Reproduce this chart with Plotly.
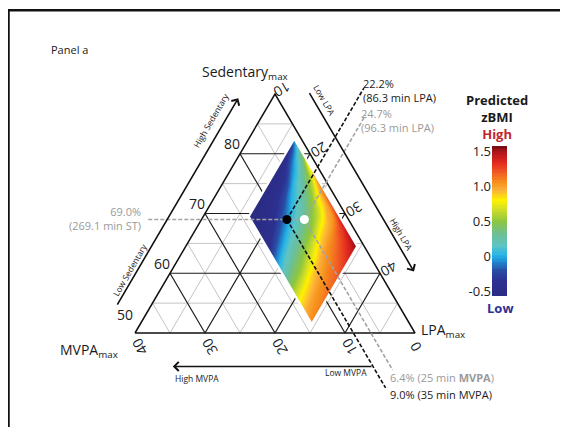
import plotly.graph_objects as go

# page body keeps an 8px margin, so the figure is sized to the visible window
OX, OY = 8, 8
W, H = 568 - OX, 427 - OY
FONT = "Open Sans"

# ---------------- chart data ----------------
sed_tick_vals = [50, 60, 70, 80]          # left side (Sedentary %)
mvpa_tick_vals = [40, 30, 20, 10, 0]      # bottom side (MVPA %)
lpa_tick_vals = [10, 20, 30, 40]          # right side (LPA %)

sed_grid = [55, 60, 65, 70, 75, 80, 85]
lpa_grid = [15, 20, 25, 30, 35, 40, 45]
mvpa_grid = [5, 10, 15, 20, 25, 30, 35]

# predicted zBMI surface: rows = MVPA %, cols = LPA %
lpa_cols = [16.5, 18.5, 20.5, 22.5, 24.5, 26.5, 28.5, 30.5, 32.5, 34.5]
mvpa_rows = [1, 2, 3.5, 5.5, 8, 11, 14]
zbmi = [
    [-0.10, 0.41, 0.83, 1.02, 1.14, 1.24, 1.32, 1.40, 1.49, 1.58],
    [-0.33, 0.13, 0.39, 0.62, 0.88, 0.96, 1.05, 1.25, 1.35, 1.45],
    [-0.45, -0.09, 0.18, 0.37, 0.54, 0.72, 0.94, 1.12, 1.25, 1.35],
    [-0.55, -0.35, 0.01, 0.18, 0.35, 0.54, 0.85, 1.05, 1.15, 1.25],
    [-0.57, -0.42, -0.23, 0.02, 0.22, 0.44, 0.69, 0.94, 1.08, 1.17],
    [-0.58, -0.52, -0.40, -0.16, 0.10, 0.33, 0.54, 0.83, 1.02, 1.12],
    [-0.60, -0.57, -0.50, -0.35, -0.06, 0.19, 0.47, 0.75, 0.95, 1.08],
]

# reference points: black = 69.0% ST / 22.2% LPA / 8.8% MVPA, white = 69.0 / 24.7 / 6.3
pt_sed = [69.0, 69.0]
pt_lpa = [22.2, 24.7]
pt_mvpa = [8.8, 6.3]
guide_sed_top = [91.0, 86.5]      # upper ends of the LPA guides
guide_sed_bottom = [40.8, 43.8]   # lower ends of the MVPA guides
guide_lpa_left = 2.4              # left end of the ST guide

cb_min, cb_max = -0.57, 1.58
cb_tickvals = [-0.5, 0, 0.5, 1.0, 1.5]
cb_ticktext = ["-0.5", "0", "0.5", "1.0", "1.5"]


def fx(xp):
    return (xp - OX) / W


def fy(yp):
    return 1 - (yp - OY) / H


# ---------------- projection (ternary -> plane) ----------------
X0, Y0 = 135 - OX, 333 - OY   # bottom-left corner in figure pixels
SX, SY = 7.0, 5.975           # pixels per percentage point
x_range = [-X0 / SX, (W - X0) / SX]
y_range = [-(H - Y0) / SY, Y0 / SY]


def tern(sed, lpa):
    return (lpa - 10) + (sed - 50) / 2.0, sed - 50


def seg_trace(segs, color, width, dash=None, axes=("x", "y")):
    xs, ys = [], []
    for seg in segs:
        for (x, y) in seg:
            xs.append(x)
            ys.append(y)
        xs.append(None)
        ys.append(None)
    return go.Scatter(x=xs, y=ys, mode="lines", xaxis=axes[0], yaxis=axes[1],
                      line=dict(color=color, width=width, dash=dash),
                      hoverinfo="skip", showlegend=False)


def sed_line(s):
    return [tern(s, 10), tern(s, 100 - s)]


def lpa_line(l):
    return [tern(50, l), tern(100 - l, l)]


def mvpa_line(m):
    return [tern(50, 50 - m), tern(90 - m, 10)]


minor = ([sed_line(v) for v in sed_grid if v % 10] +
         [lpa_line(v) for v in lpa_grid if v % 10] +
         [mvpa_line(v) for v in mvpa_grid if v % 10])
major = ([sed_line(v) for v in sed_grid if v % 10 == 0] +
         [lpa_line(v) for v in lpa_grid if v % 10 == 0] +
         [mvpa_line(v) for v in mvpa_grid if v % 10 == 0])
outline = [[tern(50, 10), tern(50, 50), tern(90, 10), tern(50, 10)]]

traces = [
    seg_trace(minor, "#c4c4c4", 1.0),
    seg_trace(major, "#1a1a1a", 1.2),
    seg_trace(outline, "#111111", 1.5),
]

# ---------------- colour surface (overlay axes) ----------------
cs_pairs = [(-0.57, "#2b2c84"), (-0.35, "#2e3192"), (-0.2, "#2a4fa6"), (-0.07, "#1e8fd4"),
            (0.02, "#29b6e6"), (0.15, "#5ec4c4"), (0.32, "#6dbf95"), (0.5, "#8dc63f"),
            (0.68, "#d4df26"), (0.8, "#fff200"), (0.95, "#fbb03b"), (1.05, "#f7941d"),
            (1.2, "#f15a24"), (1.35, "#e0261f"), (1.48, "#b3151b"), (1.58, "#7a0d12")]
colorscale = [[(v - cb_min) / (cb_max - cb_min), c] for v, c in cs_pairs]

cx = [[tern(100 - l - m, l)[0] for l in lpa_cols] for m in mvpa_rows]
cy = [[tern(100 - l - m, l)[1] for l in lpa_cols] for m in mvpa_rows]
hidden_axis = dict(showgrid=False, showline=False, showticklabels="none",
                   startline=False, endline=False, minorgridcount=0, tickmode="array",
                   tickvals=[])
traces.append(go.Carpet(carpet="zdiamond", a=lpa_cols, b=mvpa_rows, x=cx, y=cy,
                        xaxis="x2", yaxis="y2", aaxis=hidden_axis, baxis=hidden_axis))
traces.append(go.Contourcarpet(
    carpet="zdiamond", a=lpa_cols, b=mvpa_rows, z=zbmi, xaxis="x2", yaxis="y2",
    autocontour=False,
    contours=dict(start=cb_min, end=cb_max, size=0.02, coloring="fill", showlines=False),
    line=dict(width=0), colorscale=colorscale,
    colorbar=dict(x=fx(492), xanchor="left", xpad=0, ypad=0, y=fy(221), yanchor="middle",
                  len=150, lenmode="pixels", thickness=15, outlinewidth=0,
                  showticklabels=False, ticks="")))

lo_l, hi_l = lpa_cols[0], lpa_cols[-1]
lo_m, hi_m = mvpa_rows[0], mvpa_rows[-1]
corners = [(lo_l, lo_m), (hi_l, lo_m), (hi_l, hi_m), (lo_l, hi_m), (lo_l, lo_m)]
traces.append(seg_trace([[tern(100 - l - m, l) for l, m in corners]], "white", 2.2,
                        axes=("x2", "y2")))

# guides
GRAY = "#a3a3a3"
DASH = "4px,2px"
traces.append(seg_trace([[tern(pt_sed[0], guide_lpa_left), tern(pt_sed[1], pt_lpa[1])]],
                        GRAY, 1.6, DASH, ("x2", "y2")))
traces.append(seg_trace([[tern(pt_sed[1], pt_lpa[1]), tern(guide_sed_top[1], pt_lpa[1])],
                         [tern(pt_sed[1], pt_lpa[1]),
                          tern(guide_sed_bottom[1], 100 - guide_sed_bottom[1] - pt_mvpa[1])]],
                        GRAY, 1.6, DASH, ("x2", "y2")))
traces.append(seg_trace([[tern(pt_sed[0], pt_lpa[0]), tern(guide_sed_top[0], pt_lpa[0])],
                         [tern(pt_sed[0], pt_lpa[0]),
                          tern(guide_sed_bottom[0], 100 - guide_sed_bottom[0] - pt_mvpa[0])]],
                        "#111111", 1.6, DASH, ("x2", "y2")))
px_, py_ = zip(*[tern(s, l) for s, l in zip(pt_sed, pt_lpa)])
traces.append(go.Scatter(x=list(px_), y=list(py_), mode="markers", xaxis="x2", yaxis="y2",
                         marker=dict(size=9, color=["#000000", "#ffffff"], line=dict(width=0)),
                         hoverinfo="skip", showlegend=False))

# invisible trace carrying the colour-bar value axis
traces.append(go.Scatter(x=[0.5], y=[cb_min], xaxis="x3", yaxis="y3", mode="markers",
                         marker=dict(opacity=0), hoverinfo="skip", showlegend=False))

fig = go.Figure(traces)

# ---------------- annotations ----------------
ann = []


def txt(xp, yp, text, size=11, color="#1a1a1a", angle=0, xanchor="center", align="center"):
    ann.append(dict(x=fx(xp), y=fy(yp), xref="paper", yref="paper", text=text,
                    showarrow=False, textangle=angle, xanchor=xanchor, yanchor="middle",
                    align=align, font=dict(family=FONT, size=size, color=color)))


def tick(pos, text, xs, ys, angle=0):
    ann.append(dict(x=pos[0], y=pos[1], xref="x", yref="y", text=text, showarrow=False,
                    xshift=xs, yshift=ys, textangle=angle,
                    font=dict(family=FONT, size=14, color="#1a1a1a")))


for v in sed_tick_vals:
    if v == 50:
        tick(tern(v, 10), str(v), -10, 19)
    else:
        tick(tern(v, 10), str(v), -8, 10)
for v in mvpa_tick_vals:
    tick(tern(50, 50 - v), str(v), 4 if v else 0, -14, -120)
for v in lpa_tick_vals:
    tick(tern(100 - v, v), str(v), 7 if v == 10 else 9, 4, 150)


def arrow(tail, head):
    ann.append(dict(x=head[0], y=head[1], ax=tail[0], ay=tail[1], xref="x", yref="y",
                    axref="x", ayref="y", text="", showarrow=True, arrowhead=4,
                    arrowsize=1.1, arrowwidth=1.6, arrowcolor="#111111", standoff=0))


arrow(tern(54.5, 5.1), tern(89.3, 5.1))
arrow(tern(90.4, 100 - 90.4 + 5), tern(60.3, 100 - 60.3 + 5))
arrow(tern(44.4, 100 - 44.4 - 8.8), tern(44.4, 100 - 44.4 - 37.4))

txt(49, 50, "Panel a", 11, xanchor="left")
txt(245, 72, "Sedentary<sub>max</sub>", 14)
txt(89, 350, "MVPA<sub>max</sub>", 14)
txt(443, 330, "LPA<sub>max</sub>", 14)

txt(211, 121, "High Sedentary", 8.5, angle=-60)
txt(129, 270, "Low Sedentary", 8.5, angle=-60)
txt(325, 100, "Low LPA", 8.5, angle=60)
txt(402, 234, "High LPA", 8.5, angle=60)
txt(197, 378, "High MVPA", 8.5)
txt(346, 372, "Low MVPA", 8.5)

TG = "#9a9a9a"
txt(143, 218, "69.0%<br>(269.1 min ST)", 11, TG, xanchor="right", align="right")
txt(361, 90, "22.2%<br>(86.3 min LPA)", 11, xanchor="left", align="left")
txt(359, 120, "24.7%<br>(96.3 min LPA)", 11, TG, xanchor="left", align="left")
txt(388, 377, "6.4% (25 min <b>MVPA</b>)", 11, TG, xanchor="left")
txt(388, 394, "9.0% (35 min MVPA)", 11, xanchor="left")

txt(497, 117, "<b>Predicted</b><br><b>zBMI</b><br><b><span style='color:#c1272d'>High</span></b>", 13)
txt(500, 308, "<b>Low</b>", 13, "#2e3192")

ax_hidden = dict(visible=False, fixedrange=True)
fig.update_layout(
    width=W, height=H, margin=dict(l=0, r=0, t=0, b=0, pad=0, autoexpand=False),
    paper_bgcolor="white", plot_bgcolor="white", showlegend=False, hovermode=False,
    font=dict(family=FONT),
    xaxis=dict(range=x_range, domain=[0, 1], **ax_hidden),
    yaxis=dict(range=y_range, domain=[0, 1], **ax_hidden),
    xaxis2=dict(range=x_range, overlaying="x", **ax_hidden),
    yaxis2=dict(range=y_range, overlaying="y", **ax_hidden),
    xaxis3=dict(domain=[fx(492), fx(507)], range=[0, 1], anchor="y3", **ax_hidden),
    yaxis3=dict(domain=[fy(296), fy(146)], range=[cb_min, cb_max], anchor="x3",
                side="left", tickmode="array", tickvals=cb_tickvals, ticktext=cb_ticktext,
                showgrid=False, zeroline=False, showline=False, ticks="",
                tickfont=dict(family=FONT, size=13, color="#222222"), fixedrange=True),
    annotations=ann,
    shapes=[dict(type="rect", xref="paper", yref="paper", x0=fx(8.5), x1=fx(580),
                 y0=fy(440), y1=fy(10.3), line=dict(color="#111111", width=2.5))],
)

fig.write_html("out.html")
